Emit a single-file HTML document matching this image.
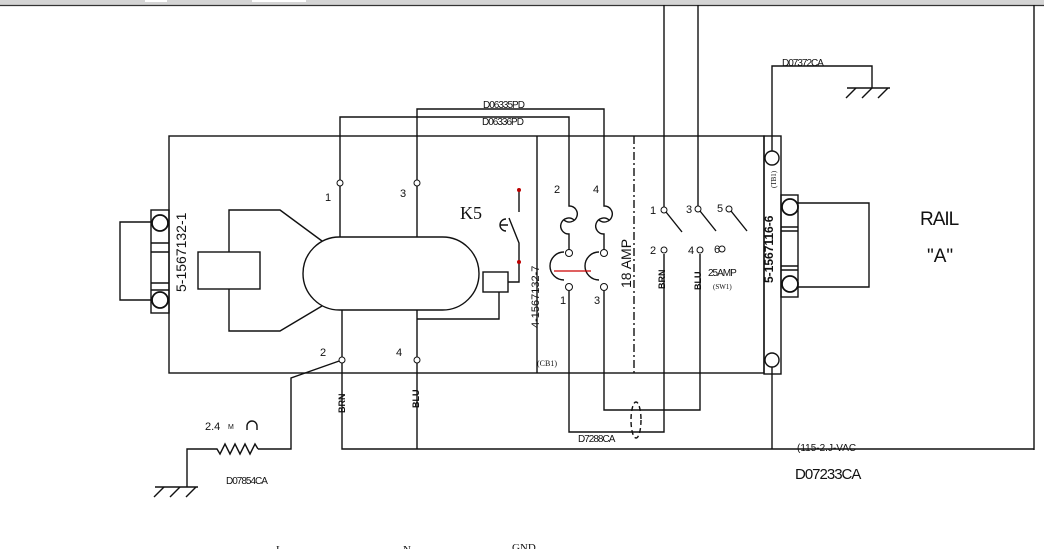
<!DOCTYPE html>
<html><head><style>
html,body{margin:0;padding:0;background:#fff;}
svg{display:block;}
text{font-family:"Liberation Sans",sans-serif;fill:#111;}
.s{font-family:"Liberation Serif",serif;}
</style></head><body>
<svg width="1044" height="549" viewBox="0 0 1044 549" xmlns="http://www.w3.org/2000/svg">
<rect x="0" y="0" width="1044" height="5" fill="#d4d4d4"/>
<rect x="145" y="0" width="22" height="2" fill="#fff"/>
<rect x="252" y="0" width="54" height="2" fill="#fff"/>
<line x1="0" y1="5.5" x2="1044" y2="5.5" stroke="#333" stroke-width="1.2"/>
<g stroke="#111" stroke-width="1.4" fill="none">
<line x1="1034" y1="5" x2="1034" y2="450"/>
<rect x="169" y="136" width="595" height="237"/>
<line x1="537" y1="136" x2="537" y2="373"/>
<line x1="634" y1="136" x2="634" y2="373" stroke-dasharray="8,3,2,3"/>
<rect x="151" y="210" width="18" height="103"/>
<line x1="151" y1="243" x2="169" y2="243"/><line x1="151" y1="252" x2="169" y2="252"/>
<line x1="151" y1="283" x2="169" y2="283"/><line x1="151" y1="290" x2="169" y2="290"/>
<circle cx="160" cy="223" r="8" stroke-width="1.8"/>
<circle cx="160" cy="300" r="8" stroke-width="1.8"/>
<polyline points="152,222 120,222 120,300 152,300"/>
<rect x="198" y="252" width="62" height="37"/>
<polyline points="229,252 229,210 280,210 322,241"/>
<polyline points="229,289 229,331 280,331 322,306"/>
<rect x="303" y="237" width="176" height="73" rx="36.5" ry="36.5"/>
<polyline points="340,237 340,117 569,117 569,198"/>
<polyline points="417,237 417,109 604,109 604,198"/>
<polyline points="342,310 342,449 1034,449"/>
<line x1="417" y1="310" x2="417" y2="449"/>
<polyline points="417,319 499,319 499,292"/>
<rect x="483" y="272" width="25" height="20"/>
<polyline points="508,282 519,282 519,262"/>
<line x1="519" y1="190" x2="519" y2="212"/>
<polyline points="519,262 519,243 509,218"/>
<path d="M506,219 a6,6 0 0 0 0,12 M500,225 h8"/>
<polyline points="342,360 291,378 291,449 258,449"/>
<path d="M258,449 l-3,-5 l-5,10 l-5,-10 l-5,10 l-5,-10 l-5,10 l-5,-10 l-5,10 l-3,-5 h-30 v38"/>
<line x1="155" y1="487" x2="198" y2="487"/>
<line x1="164" y1="487" x2="154" y2="497"/><line x1="180" y1="487" x2="170" y2="497"/><line x1="196" y1="487" x2="186" y2="497"/>
<path d="M247,430 v-4 a5,5 0 0 1 10,0 v4"/>
<!-- fuses: open curls -->
<path d="M569,198 v8 a8,8 0 1 1 -5,14 M574,220 a8,8 0 1 0 -5,14 v16"/>
<path d="M604,198 v8 a8,8 0 1 1 -5,14 M609,220 a8,8 0 1 0 -5,14 v16"/>
<path d="M564,252 a14,14 0 0 0 0,28"/>
<path d="M599,252 a14,14 0 0 0 0,28"/>
<polyline points="569,291 569,432 664,432 664,254"/>
<polyline points="604,291 604,410 700,410 700,254"/>
<ellipse cx="636" cy="420" rx="5" ry="18" stroke-dasharray="5,3"/>
<line x1="664" y1="5" x2="664" y2="207"/>
<line x1="698" y1="5" x2="698" y2="207"/>
<line x1="666" y1="212" x2="682" y2="232"/>
<line x1="700" y1="211" x2="716" y2="231"/>
<line x1="731" y1="211" x2="747" y2="231"/>
<rect x="764" y="136" width="17" height="238"/>
<circle cx="772" cy="158" r="7"/>
<circle cx="772" cy="360" r="7"/>
<polyline points="772,151 772,66 872,66 872,88"/>
<line x1="772" y1="367" x2="772" y2="449"/>
<line x1="847" y1="88" x2="890" y2="88"/>
<line x1="856" y1="88" x2="846" y2="98"/><line x1="872" y1="88" x2="862" y2="98"/><line x1="888" y1="88" x2="878" y2="98"/>
<rect x="781" y="195" width="17" height="102"/>
<line x1="781" y1="227" x2="798" y2="227"/><line x1="781" y1="231" x2="798" y2="231"/>
<line x1="781" y1="266" x2="798" y2="266"/><line x1="781" y1="270" x2="798" y2="270"/>
<circle cx="790" cy="207" r="8" stroke-width="1.8"/>
<circle cx="790" cy="284" r="8" stroke-width="1.8"/>
<polyline points="798,203 869,203 869,287 798,287"/>
</g>
<g stroke="#111" stroke-width="1" fill="#fff">
<circle cx="340" cy="183" r="3"/><circle cx="417" cy="183" r="3"/>
<circle cx="342" cy="360" r="3"/><circle cx="417" cy="360" r="3"/>
<circle cx="569" cy="253" r="3.5"/><circle cx="569" cy="287" r="3.5"/>
<circle cx="604" cy="253" r="3.5"/><circle cx="604" cy="287" r="3.5"/>
<circle cx="664" cy="210" r="3"/><circle cx="698" cy="209" r="3"/><circle cx="729" cy="209" r="3"/>
<circle cx="664" cy="250" r="3"/><circle cx="700" cy="250" r="3"/><circle cx="722" cy="249" r="3"/>
</g>
<line x1="554" y1="271" x2="591" y2="271" stroke="#c00" stroke-width="1.2"/>
<circle cx="519" cy="190" r="2" fill="#b00"/>
<circle cx="519" cy="262" r="2" fill="#b00"/>
<g font-size="11">
<text x="325" y="201">1</text><text x="400" y="197">3</text>
<text x="320" y="356">2</text><text x="396" y="356">4</text>
<text x="554" y="193">2</text><text x="593" y="193">4</text>
<text x="560" y="304">1</text><text x="594" y="304">3</text>
<text x="650" y="214">1</text><text x="686" y="213">3</text><text x="717" y="212">5</text>
<text x="650" y="254">2</text><text x="688" y="254">4</text><text x="714" y="253">6</text>
<text x="205" y="430">2.4</text>
</g>
<text x="228" y="429" font-size="7">M</text>
<text x="460" y="219" class="s" font-size="18">K5</text>
<g font-size="10" letter-spacing="-1">
<text x="483" y="108">D06335PD</text><text x="482" y="125">D06336PD</text>
<text x="578" y="442">D7288CA</text>
<text x="226" y="484">D07854CA</text>
<text x="782" y="66">D07372CA</text>
<text x="708" y="276">25AMP</text>
</g>
<text x="713" y="289" font-size="7" class="s">(SW1)</text>
<text x="537" y="366" font-size="8" class="s">(CB1)</text>
<text x="797" y="451" font-size="10" fill="#777">(115-2.J-VAC</text>
<text x="795" y="479" font-size="15" letter-spacing="-1">D07233CA</text>
<text x="920" y="225" font-size="19" letter-spacing="-1">RAIL</text>
<text x="927" y="262" font-size="19">"A"</text>
<text transform="translate(186,292) rotate(-90)" font-size="14">5-1567132-1</text>
<text transform="translate(539,328) rotate(-90)" font-size="11">4-1567132-7</text>
<text transform="translate(631,288) rotate(-90)" font-size="14">18 AMP</text>
<text transform="translate(773,283) rotate(-90)" font-size="12" font-weight="bold">5-1567116-6</text>
<text transform="translate(776,188) rotate(-90)" font-size="7" class="s">(TB1)</text>
<text transform="translate(345,413) rotate(-90)" font-size="9" font-weight="bold">BRN</text>
<text transform="translate(419,408) rotate(-90)" font-size="9" font-weight="bold">BLU</text>
<text transform="translate(665,289) rotate(-90)" font-size="9" font-weight="bold">BRN</text>
<text transform="translate(701,290) rotate(-90)" font-size="9" font-weight="bold">BLU</text>
<text x="276" y="553" font-size="11" class="s">L</text>
<text x="403" y="553" font-size="11" class="s">N</text>
<text x="512" y="551" font-size="11" class="s">GND</text>
</svg>
</body></html>
